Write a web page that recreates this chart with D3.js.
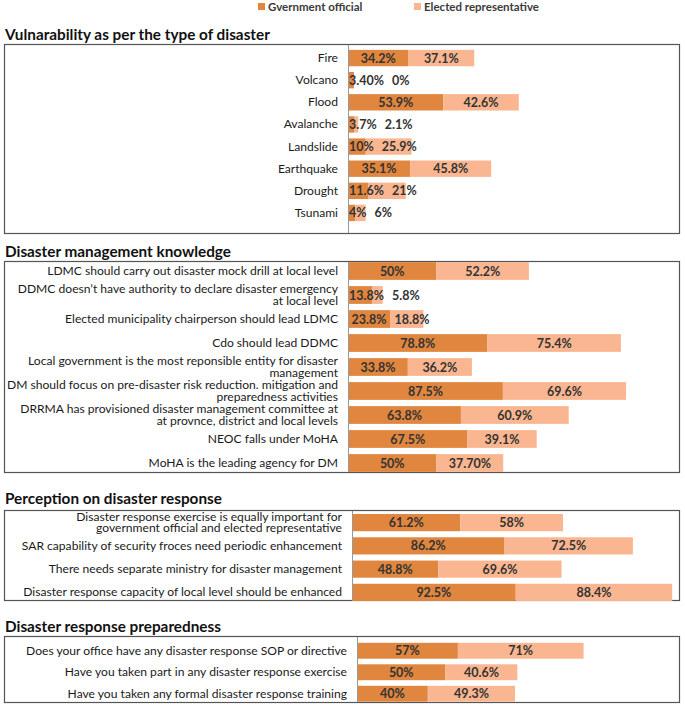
<!DOCTYPE html>
<html>
<head>
<meta charset="utf-8">
<script src="https://cdn.jsdelivr.net/npm/d3@7"></script>
<style>
  body { margin: 0; background: #fff; }
  svg { display: block; font-family: Lato, "Liberation Sans", sans-serif; }
</style>
</head>
<body>
<div class="container"></div>
<script>
(function() {
  // Chart data
  var seriesNames = ['Gvernment official', 'Elected representative'];

  var disasterTitle = 'Vulnarability as per the type of disaster';
  var disasterTypes = ['Fire', 'Volcano', 'Flood', 'Avalanche', 'Landslide', 'Earthquake', 'Drought', 'Tsunami'];
  var disasterGov = [34.2, 3.4, 53.9, 3.7, 10, 35.1, 11.6, 4];
  var disasterElected = [37.1, 0, 42.6, 2.1, 25.9, 45.8, 21, 6];
  var disasterGovText = ['34.2%', '3.40%', '53.9%', '3.7%', '10%', '35.1%', '11.6%', '4%'];
  var disasterElectedText = ['37.1%', '0%', '42.6%', '2.1%', '25.9%', '45.8%', '21%', '6%'];

  var knowledgeTitle = 'Disaster management knowledge';
  var knowledgeItems = [
    'LDMC should carry out disaster mock drill at local level',
    'DDMC doesn\u2019t have authority to declare disaster emergency\nat local level',
    'Elected municipality chairperson should lead LDMC',
    'Cdo should  lead DDMC',
    'Local government is the most reponsible entity for disaster\nmanagement',
    'DM should focus  on pre-disaster risk reduction. mitigation and\npreparedness activities',
    'DRRMA has provisioned  disaster management committee at\nat provnce, district and local levels',
    'NEOC falls  under MoHA',
    'MoHA is the leading agency for DM'
  ];
  var knowledgeGov = [50, 13.8, 23.8, 78.8, 33.8, 87.5, 63.8, 67.5, 50];
  var knowledgeElected = [52.2, 5.8, 18.8, 75.4, 36.2, 69.6, 60.9, 39.1, 37.7];
  var knowledgeGovText = ['50%', '13.8%', '23.8%', '78.8%', '33.8%', '87.5%', '63.8%', '67.5%', '50%'];
  var knowledgeElectedText = ['52.2%', '5.8%', '18.8%', '75.4%', '36.2%', '69.6%', '60.9%', '39.1%', '37.70%'];

  var perceptionTitle = 'Perception on disaster response';
  var perceptionItems = [
    'Disaster response exercise is equally important for\ngovernment official  and elected representative',
    'SAR capability  of security froces need periodic enhancement',
    'There needs separate ministry for disaster management',
    'Disaster response capacity  of local level should be enhanced'
  ];
  var perceptionGov = [61.2, 86.2, 48.8, 92.5];
  var perceptionElected = [58, 72.5, 69.6, 88.4];
  var perceptionGovText = ['61.2%', '86.2%', '48.8%', '92.5%'];
  var perceptionElectedText = ['58%', '72.5%', '69.6%', '88.4%'];

  var preparednessTitle = 'Disaster response preparedness';
  var preparednessItems = [
    'Does your office have any disaster response SOP or directive',
    'Have you taken part in any disaster response exercise',
    'Have you taken any formal disaster response training'
  ];
  var preparednessGov = [57, 50, 40];
  var preparednessElected = [71, 40.6, 49.3];
  var preparednessGovText = ['57%', '50%', '40%'];
  var preparednessElectedText = ['71%', '40.6%', '49.3%'];

  // Layout and styles
  var opts = { width: 685, height: 711, colors: ['#e0863f', '#f9b690'], pxPerPct: 1.77 };

  var panels = [
    { title: disasterTitle, items: disasterTypes, gov: disasterGov, elected: disasterElected,
      govText: disasterGovText, electedText: disasterElectedText,
      titleY: 40, boxTop: 44, boxBottom: 233, axisX: 348, rowTop: 47, rowBottom: 224 },
    { title: knowledgeTitle, items: knowledgeItems, gov: knowledgeGov, elected: knowledgeElected,
      govText: knowledgeGovText, electedText: knowledgeElectedText,
      titleY: 257, boxTop: 261, boxBottom: 472, axisX: 348, rowTop: 259, rowBottom: 475 },
    { title: perceptionTitle, items: perceptionItems, gov: perceptionGov, elected: perceptionElected,
      govText: perceptionGovText, electedText: perceptionElectedText,
      titleY: 504, boxTop: 510, boxBottom: 600, axisX: 352, rowTop: 511, rowBottom: 604 },
    { title: preparednessTitle, items: preparednessItems, gov: preparednessGov, elected: preparednessElected,
      govText: preparednessGovText, electedText: preparednessElectedText,
      titleY: 632, boxTop: 636, boxBottom: 702, axisX: 357, rowTop: 640, rowBottom: 704.5 }
  ];

  var svg = d3.select('div.container').append('svg')
    .attr('width', opts.width)
    .attr('height', opts.height);

  // Legend
  var legendX = [258, 414];
  seriesNames.forEach(function(name, i) {
    svg.append('rect')
      .attr('x', legendX[i]).attr('y', 3)
      .attr('width', 7).attr('height', 7)
      .attr('fill', opts.colors[i]);
    svg.append('text')
      .attr('x', legendX[i] + 10).attr('y', 11)
      .attr('font-size', 11.5).attr('font-weight', 'bold')
      .attr('fill', '#3a3a3a')
      .text(name);
  });

  var drawPanel = function(p) {
    var g = svg.append('g');
    var n = p.items.length;
    var y = d3.scaleBand().domain(d3.range(n)).range([p.rowTop, p.rowBottom]).paddingInner(0.26).paddingOuter(0.13);
    var x = d3.scaleLinear().domain([0, 100]).range([p.axisX, p.axisX + 100 * opts.pxPerPct]);

    g.append('text')
      .attr('x', 5).attr('y', p.titleY)
      .attr('font-size', 15.3).attr('font-weight', 'bold')
      .attr('fill', '#111')
      .text(p.title);

    g.append('rect')
      .attr('x', 4.5).attr('y', p.boxTop + 0.5)
      .attr('width', 675).attr('height', p.boxBottom - p.boxTop)
      .attr('fill', 'none')
      .attr('stroke', '#555').attr('stroke-width', 1.2);

    // Category labels
    p.items.forEach(function(label, i) {
      var lines = label.split('\n');
      var cy = y(i) + y.bandwidth() / 2;
      var t = g.append('text')
        .attr('text-anchor', 'end')
        .attr('font-size', 12.1)
        .attr('fill', '#1a1a1a');
      lines.forEach(function(line, k) {
        t.append('tspan')
          .attr('x', p.axisX - 10)
          .attr('y', cy + 4 + (k - (lines.length - 1) / 2) * 11.2)
          .text(line);
      });
    });

    // Bars
    p.items.forEach(function(label, i) {
      var a = p.gov[i], b = p.elected[i];
      g.append('rect')
        .attr('x', x(0)).attr('y', y(i))
        .attr('width', x(a) - x(0)).attr('height', y.bandwidth())
        .attr('fill', opts.colors[0]);
      g.append('rect')
        .attr('x', x(a)).attr('y', y(i))
        .attr('width', x(a + b) - x(a)).attr('height', y.bandwidth())
        .attr('fill', opts.colors[1]);
    });

    // Axis line
    g.append('line')
      .attr('x1', p.axisX + 0.5).attr('x2', p.axisX + 0.5)
      .attr('y1', p.boxTop + 1).attr('y2', p.boxBottom)
      .attr('stroke', '#999').attr('stroke-width', 1);

    // Data labels
    p.items.forEach(function(label, i) {
      var a = p.gov[i], b = p.elected[i];
      var cy = y(i) + y.bandwidth() / 2 + 4.5;
      var t1 = g.append('text')
        .attr('text-anchor', 'middle').attr('y', cy)
        .attr('font-size', 12.5).attr('font-weight', 'bold')
        .attr('fill', '#333')
        .text(p.govText[i]);
      var w1 = t1.node().getComputedTextLength();
      var c1 = Math.max((x(0) + x(a)) / 2, x(0) + w1 / 2 + 1);
      t1.attr('x', c1);
      var t2 = g.append('text')
        .attr('text-anchor', 'middle').attr('y', cy)
        .attr('font-size', 12.5).attr('font-weight', 'bold')
        .attr('fill', '#333')
        .text(p.electedText[i]);
      var w2 = t2.node().getComputedTextLength();
      var c2 = Math.max((x(a) + x(a + b)) / 2, c1 + w1 / 2 + 8 + w2 / 2);
      t2.attr('x', c2);
    });
  };

  panels.forEach(drawPanel);
}).call(this);
</script>
</body>
</html>
